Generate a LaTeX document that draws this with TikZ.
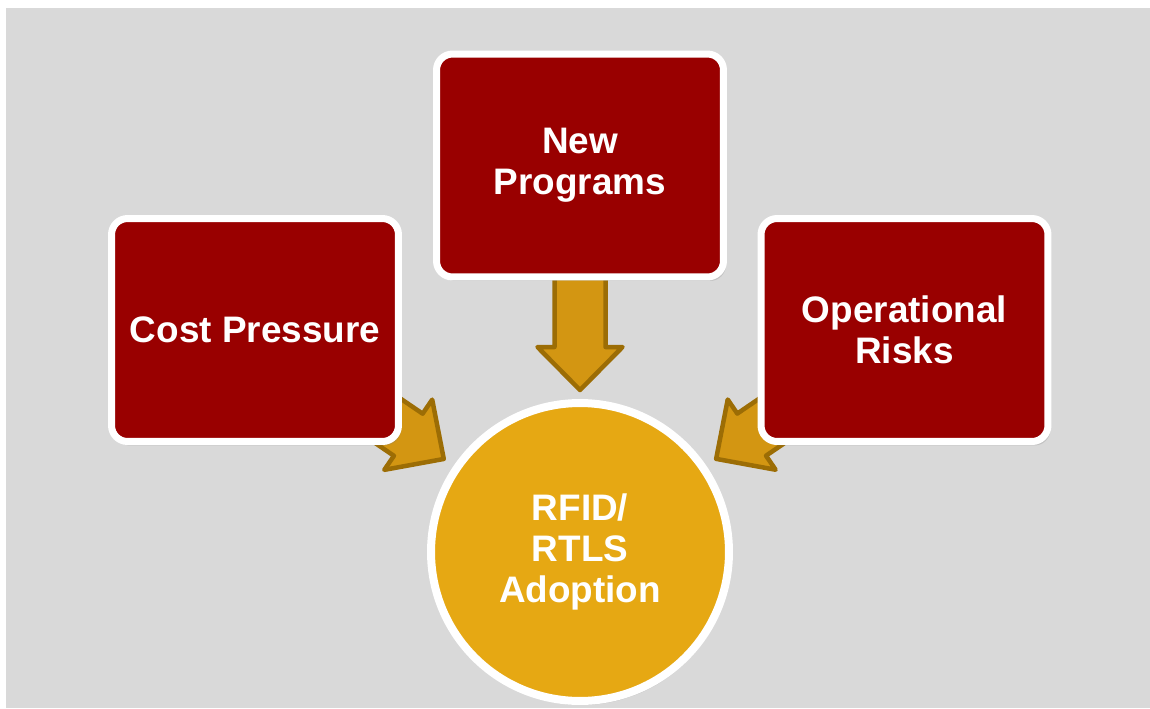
\documentclass[tikz,border=0pt]{standalone}
\usepackage{fontspec}
\setmainfont{Liberation Sans}
\usetikzlibrary{calc,shadows}
\definecolor{slidegray}{HTML}{D9D9D9}
\definecolor{boxred}{HTML}{990000}
\definecolor{hubgold}{HTML}{E6A813}
\definecolor{arrowgold}{HTML}{D39612}
\definecolor{arrowedge}{HTML}{9C6D05}
\tikzset{
  driver/.style={draw=white, line width=0.14cm, fill=boxred, rounded corners=0.32cm,
    minimum width=5.74cm, minimum height=4.46cm, align=center, text=white,
    font=\fontsize{21}{23.5}\selectfont\bfseries,
    drop shadow={shadow xshift=0.05cm, shadow yshift=-0.08cm, opacity=0.25}},
  hub/.style={circle, draw=white, line width=0.16cm, fill=hubgold, minimum size=5.96cm,
    inner sep=0pt, align=center, text=white,
    font=\fontsize{21}{23.5}\selectfont\bfseries,
    drop shadow={shadow xshift=0.03cm, shadow yshift=-0.08cm, opacity=0.25}},
  fatarrow/.style={fill=arrowgold, draw=arrowedge, line width=0.09cm, line join=round}
}
\newcommand{\fatarrow}[2]{%
  \begin{scope}[shift={(#1)}, rotate=#2]
    \draw[fatarrow] (0,0) -- (-43,42.5) -- (-43,25.5) -- (-170,25.5)
      -- (-170,-25.5) -- (-43,-25.5) -- (-43,-42.5) -- cycle;
  \end{scope}}
\begin{document}
\begin{tikzpicture}[x=0.02cm, y=-0.02cm]
  \useasboundingbox (0,0) rectangle (1150,708);
  \fill[white] (0,0) rectangle (1150,708);
  \fill[slidegray] (6,8) rectangle (1150,708);
  % positions only, the boxes are drawn over the arrows
  \path
    (255,330) coordinate (c-cost)
    (580,165.5) coordinate (c-programs)
    (904.5,330) coordinate (c-risks)
    (580,552) coordinate (c-rfid);
  \coordinate (tip-cost) at ($(c-rfid)!3.3cm!(c-cost)$);
  \coordinate (tip-programs) at ($(c-rfid)!3.24cm!(c-programs)$);
  \coordinate (tip-risks) at ($(c-rfid)!3.3cm!(c-risks)$);
  \fatarrow{tip-cost}{-34.3}
  \fatarrow{tip-programs}{-90}
  \fatarrow{tip-risks}{-145.7}
  \node[driver] (cost) at (c-cost) {Cost Pressure};
  \node[driver] (programs) at (c-programs) {New\\Programs};
  \node[driver] (risks) at (c-risks) {Operational\\Risks};
  \node[hub] (rfid) at (c-rfid) {RFID/\\RTLS\\Adoption};
\end{tikzpicture}
\end{document}
